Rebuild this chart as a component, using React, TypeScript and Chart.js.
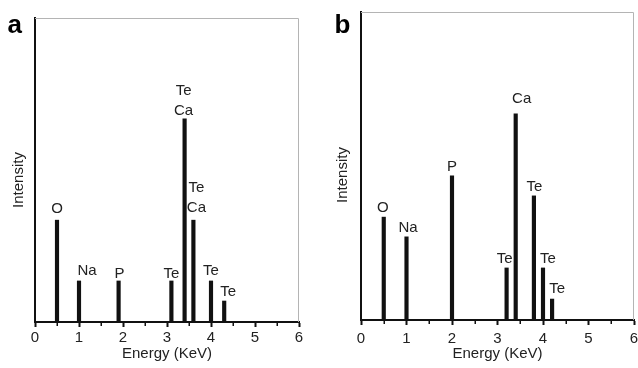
import React, { useEffect, useRef } from "react";
import { Chart, registerables } from "chart.js";

Chart.register(...registerables);
Chart.defaults.font.family = "'Liberation Sans', Arial, Helvetica, sans-serif";

// ---- data ----
const energyA = [0.5, 1.0, 1.9, 3.1, 3.4, 3.6, 4.0, 4.3];
const intensityA = [33.5, 13.5, 13.5, 13.5, 66.8, 33.5, 13.5, 6.9];
const peakLabelsA = ["O", "Na", "P", "Te", "Te\nCa", "Te\nCa", "Te", "Te"];

const energyB = [0.5, 1.0, 2.0, 3.2, 3.4, 3.8, 4.0, 4.2];
const intensityB = [33.4, 27.0, 46.8, 16.9, 66.9, 40.3, 16.9, 6.8];
const peakLabelsB = ["O", "Na", "P", "Te", "Ca", "Te", "Te", "Te"];

const xTickValues = [0, 1, 2, 3, 4, 5, 6];
const xMinorTickValues = [0.5, 1.5, 2.5, 3.5, 4.5, 5.5];
const xTitle = "Energy (KeV)";
const yTitle = "Intensity";

// ---- placement / style (kept apart from data) ----
// [dx, gap above bar top] for each peak label
const labelPlaceA = [[0, 7], [8, 6], [1, 3], [0, 3], [-1, 4], [3, 8], [0, 6], [4, 5]];
const labelPlaceB = [[-1, 5], [1.5, 5], [0, 5], [-2, 5], [6, 11], [0.5, 5], [5, 5], [5, 6]];

type PanelCfg = {
  letter: string;
  x: number[];
  y: number[];
  labels: string[];
  place: number[][];
  left: number;
  padTop: number;
  padRight: number;
  yWidth: number;
  xHeight: number;
  tickPad: number;
  letterX: number;
  yTitleX: number;
  yTitleDy: number;
};

const panels: PanelCfg[] = [
  {
    letter: "a", x: energyA, y: intensityA, labels: peakLabelsA, place: labelPlaceA,
    left: 0, padTop: 18, padRight: 20, yWidth: 35, xHeight: 46, tickPad: 2,
    letterX: 7.5, yTitleX: 18.5, yTitleDy: 10,
  },
  {
    letter: "b", x: energyB, y: intensityB, labels: peakLabelsB, place: labelPlaceB,
    left: 319, padTop: 12, padRight: 4, yWidth: 42, xHeight: 48, tickPad: 5,
    letterX: 15.5, yTitleX: 23.5, yTitleDy: 9,
  },
];

const TEXT = "#222";
const INK = "#111";
const FONT = "'Liberation Sans', Arial, Helvetica, sans-serif";

function makeDecor(p: PanelCfg) {
  return {
    id: "decor" + p.letter,
    afterDraw(chart: any) {
      const { ctx, chartArea } = chart;
      const xs = chart.scales.x;
      ctx.save();
      // grey frame top & right
      ctx.strokeStyle = "#b4b4b4";
      ctx.lineWidth = 1;
      ctx.beginPath();
      ctx.moveTo(chartArea.left, chartArea.top + 0.5);
      ctx.lineTo(chartArea.right - 0.5, chartArea.top + 0.5);
      ctx.lineTo(chartArea.right - 0.5, chartArea.bottom);
      ctx.stroke();
      // minor ticks
      ctx.strokeStyle = INK;
      ctx.lineWidth = 1.5;
      ctx.beginPath();
      xMinorTickValues.forEach((v) => {
        const px = Math.round(xs.getPixelForValue(v)) + 0.25;
        ctx.moveTo(px, chartArea.bottom);
        ctx.lineTo(px, chartArea.bottom + 4);
      });
      ctx.stroke();
      // peak labels
      ctx.fillStyle = TEXT;
      ctx.font = "15px " + FONT;
      ctx.textAlign = "center";
      ctx.textBaseline = "alphabetic";
      const meta = chart.getDatasetMeta(0);
      meta.data.forEach((el: any, i: number) => {
        const lines = p.labels[i].split("\n");
        const [dx, gap] = p.place[i];
        const base = el.y - gap;
        lines.forEach((t, j) => {
          ctx.fillText(t, el.x + dx, base - (lines.length - 1 - j) * 20);
        });
      });
      // y title
      ctx.save();
      ctx.translate(p.yTitleX, (chartArea.top + chartArea.bottom) / 2 + p.yTitleDy);
      ctx.rotate(-Math.PI / 2);
      ctx.textBaseline = "middle";
      ctx.fillText(yTitle, 0, 0);
      ctx.restore();
      // panel letter
      ctx.fillStyle = "#000";
      ctx.font = "bold 26px " + FONT;
      ctx.textAlign = "left";
      ctx.textBaseline = "alphabetic";
      ctx.fillText(p.letter, p.letterX, 33);
      ctx.restore();
    },
  };
}

function Panel({ p }: { p: PanelCfg }) {
  const ref = useRef<HTMLCanvasElement>(null);
  useEffect(() => {
    if (!ref.current) return;
    const chart = new Chart(ref.current, {
      type: "bar",
      data: {
        datasets: [
          {
            data: p.x.map((x, i) => ({ x, y: p.y[i] })),
            backgroundColor: INK,
            borderWidth: 0,
            barThickness: 3.5,
          } as any,
        ],
      },
      options: {
        animation: false,
        responsive: false,
        devicePixelRatio: 1,
        layout: { padding: { top: p.padTop, right: p.padRight, left: 0, bottom: 0 }, autoPadding: false } as any,
        plugins: { legend: { display: false }, tooltip: { enabled: false } },
        scales: {
          x: {
            type: "linear",
            min: 0,
            max: 6,
            offset: false,
            grid: {
              display: true,
              offset: false,
              drawOnChartArea: false,
              drawTicks: true,
              tickLength: 5,
              tickColor: INK,
              tickWidth: 2,
            },
            border: { display: true, color: INK, width: 2 },
            ticks: {
              padding: p.tickPad,
              color: TEXT,
              font: { size: 15 },
              maxRotation: 0,
              autoSkip: false,
            },
            afterBuildTicks: (s: any) => {
              s.ticks = xTickValues.map((v) => ({ value: v }));
            },
            title: {
              display: true,
              text: xTitle,
              color: TEXT,
              font: { size: 15 },
              padding: { top: 0, bottom: 5 },
            },
            afterFit: (s: any) => {
              s.height = p.xHeight;
              s.paddingLeft = 0;
              s.paddingRight = 0;
            },
          } as any,
          y: {
            type: "linear",
            min: 0,
            max: 100,
            grid: { display: false },
            border: { display: true, color: INK, width: 2 },
            ticks: { display: false },
            afterFit: (s: any) => {
              s.width = p.yWidth;
              s.paddingTop = 0;
              s.paddingBottom = 0;
            },
          } as any,
        },
      },
      plugins: [makeDecor(p)],
    });
    return () => chart.destroy();
  }, [p]);
  return (
    <canvas
      ref={ref}
      width={319}
      height={368}
      style={{ position: "absolute", left: p.left, top: 0, width: 319, height: 368, display: "block" }}
    />
  );
}

export default function App() {
  return (
    <div style={{ position: "absolute", left: 0, top: 0, width: 638, height: 368, background: "#fff", overflow: "hidden" }}>
      {panels.map((p) => (
        <Panel key={p.letter} p={p} />
      ))}
    </div>
  );
}
